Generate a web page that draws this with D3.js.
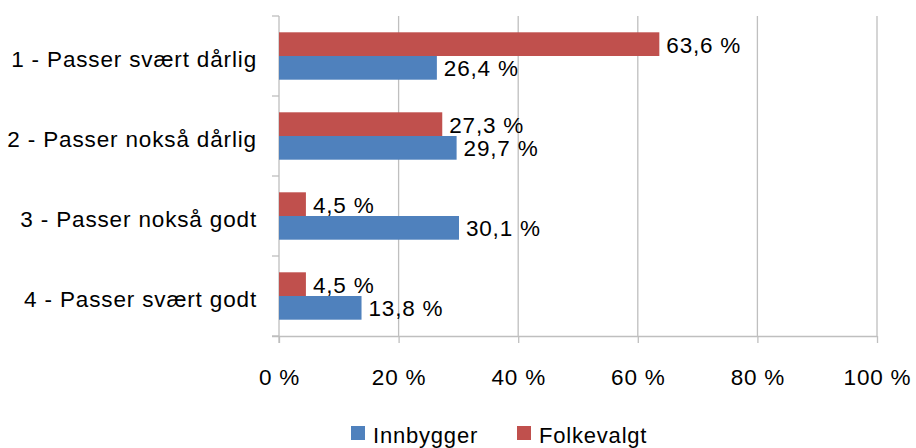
<!DOCTYPE html>
<html>
<head>
<meta charset="utf-8">
<script src="https://cdn.jsdelivr.net/npm/d3@7"></script>
<style>
  html, body { margin: 0; padding: 0; background: #fff; }
  svg { display: block; }
  text { font-family: "Liberation Sans", Arial, sans-serif; fill: #000; letter-spacing: 0.8px; }
</style>
</head>
<body>
<svg id="chart" width="916" height="448"></svg>
<script>
const categories = ["1 - Passer svært dårlig", "2 - Passer nokså dårlig", "3 - Passer nokså godt", "4 - Passer svært godt"];
const innbygger = [26.4, 29.7, 30.1, 13.8];
const folkevalgt = [63.6, 27.3, 4.5, 4.5];
const xTicks = [0, 20, 40, 60, 80, 100];
const seriesNames = ["Innbygger", "Folkevalgt"];
const seriesColors = ["#4F81BD", "#C0504D"];

const fmt = v => d3.format(".1f")(v).replace(".", ",") + " %";

const svg = d3.select("#chart");
const mLeft = 279, mRight = 877, mTop = 16, mBottom = 336;

const x = d3.scaleLinear().domain([0, 100]).range([mLeft, mRight]);
const y = d3.scaleBand().domain(categories).range([mTop, mBottom]).paddingInner(0).paddingOuter(0);
// inner band for the two bars (Folkevalgt above, Innbygger below)
const sub = d3.scaleBand().domain(["Folkevalgt", "Innbygger"]).range([0, y.bandwidth()]).paddingInner(0).paddingOuter(0.688);

// gridlines
svg.append("g").selectAll("line").data(xTicks.slice(1)).join("line")
  .attr("x1", d => x(d)).attr("x2", d => x(d))
  .attr("y1", mTop).attr("y2", mBottom)
  .attr("stroke", "#BFBFBF").attr("stroke-width", 1.3);

// bottom axis
const xAxis = d3.axisBottom(x).tickValues(xTicks).tickSize(7).tickSizeOuter(0).tickFormat(d => d + " %");
const gx = svg.append("g").attr("transform", `translate(0,${mBottom})`).call(xAxis);
gx.select(".domain").attr("stroke", "#BFBFBF").attr("stroke-width", 1.3)
  .attr("d", `M${mLeft - 7},0.5H${mRight}`);
gx.selectAll(".tick line").attr("stroke", "#BFBFBF").attr("stroke-width", 1.3);
gx.selectAll(".tick text").attr("font-size", 22.5).attr("font-family", null).attr("y", 0).attr("dy", 49);

// left axis
const yTicksPos = categories.map(c => y(c)).concat([mBottom]);
const gy = svg.append("g");
gy.append("line").attr("x1", mLeft).attr("x2", mLeft).attr("y1", mTop).attr("y2", mBottom + 7)
  .attr("stroke", "#BFBFBF").attr("stroke-width", 1.3);
gy.selectAll("line.tk").data(yTicksPos).join("line").attr("class", "tk")
  .attr("x1", mLeft - 7).attr("x2", mLeft).attr("y1", d => d).attr("y2", d => d)
  .attr("stroke", "#BFBFBF").attr("stroke-width", 1.3);
gy.selectAll("text").data(categories).join("text")
  .attr("x", 257).attr("y", d => y(d) + y.bandwidth() / 2 + 10.5)
  .attr("text-anchor", "end").attr("font-size", 22.5)
  .style("letter-spacing", "0.85px").text(d => d);

// bars
const rows = categories.map((c, i) => ({ c, Innbygger: innbygger[i], Folkevalgt: folkevalgt[i] }));
seriesNames.forEach((s, si) => {
  const g = svg.append("g");
  g.selectAll("rect").data(rows).join("rect")
    .attr("x", mLeft)
    .attr("y", d => y(d.c) + sub(s))
    .attr("width", d => x(d[s]) - mLeft)
    .attr("height", sub.bandwidth())
    .attr("fill", seriesColors[si]);
  g.selectAll("text").data(rows).join("text")
    .attr("x", d => x(d[s]) + 7)
    .attr("y", d => y(d.c) + sub(s) + sub.bandwidth() / 2 + 8.5)
    .attr("font-size", 22.5)
    .text(d => fmt(d[s]));
});

// legend
const legendX = [351, 517];
const lg = svg.append("g");
seriesNames.forEach((s, i) => {
  lg.append("rect").attr("x", legendX[i]).attr("y", 426).attr("width", 14).attr("height", 14).attr("fill", seriesColors[i]);
  lg.append("text").attr("x", legendX[i] + 22).attr("y", 442.5).attr("font-size", 22).text(s);
});
</script>
</body>
</html>
